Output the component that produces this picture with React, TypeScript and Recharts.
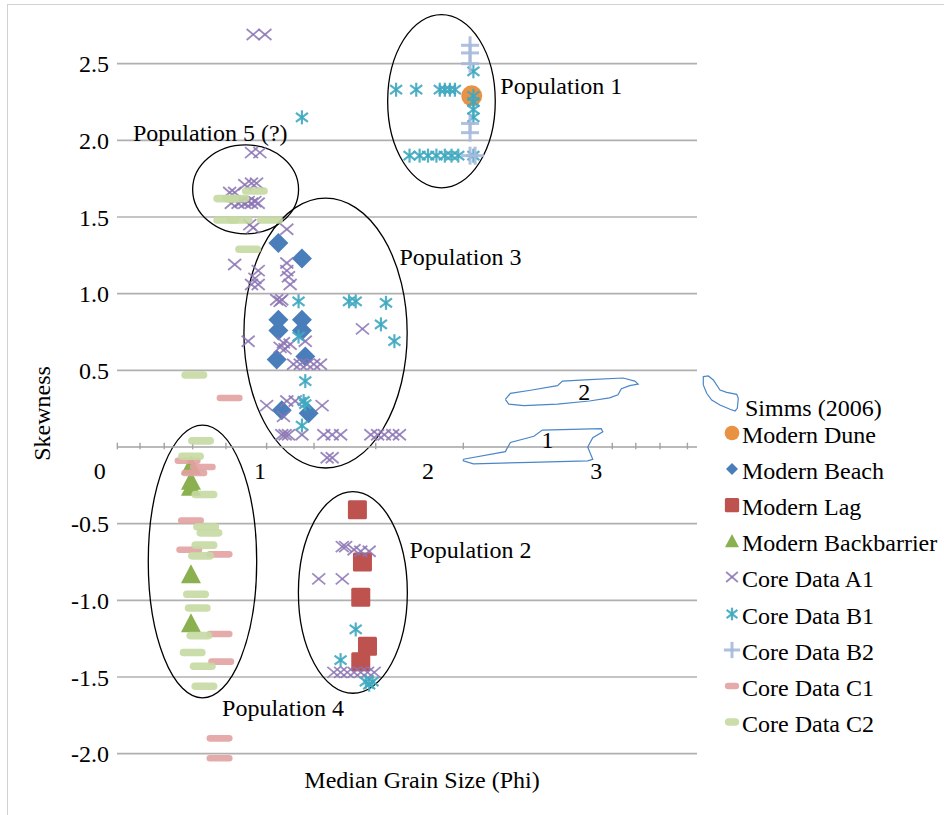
import React from 'react';
import {
  ScatterChart,
  Scatter,
  XAxis,
  YAxis,
  CartesianGrid,
  ReferenceLine,
  ReferenceArea,
  ReferenceDot,
  Legend,
} from 'recharts';

const FONT = '"Liberation Serif", "Times New Roman", serif';

// [median grain size (phi), skewness]
const modernDune = [[2.26, 2.29]];
const modernBeach = [
  [1.11, 1.33], [1.25, 1.23], [1.11, 0.83], [1.11, 0.76], [1.25, 0.83],
  [1.25, 0.76], [1.1, 0.57], [1.27, 0.59], [1.13, 0.24], [1.29, 0.22],
];
const modernLag = [[1.58, -0.41], [1.61, -0.75], [1.6, -0.98], [1.64, -1.3], [1.6, -1.4]];
const modernBackbarrier = [[0.59, -0.12], [0.59, -0.22], [0.59, -0.26], [0.59, -0.83], [0.59, -1.15]];
const coreA1 = [
  [0.96, 2.69], [1.03, 2.69], [0.95, 1.92], [1.0, 1.92],
  [0.91, 1.71], [0.95, 1.72], [0.98, 1.72], [0.82, 1.66], [0.85, 1.66],
  [0.83, 1.59], [0.87, 1.59], [0.89, 1.6], [0.91, 1.59], [0.93, 1.6], [0.95, 1.59], [0.97, 1.6], [0.99, 1.59],
  [0.94, 1.45], [0.96, 1.43], [1.16, 1.42], [0.85, 1.19],
  [1.16, 1.2], [1.16, 1.15], [1.17, 1.11], [1.18, 1.06], [0.99, 1.15], [0.95, 1.06], [0.99, 1.06], [0.97, 1.1],
  [1.1, 0.96], [1.12, 0.95], [1.13, 0.96], [1.61, 0.77], [0.93, 0.69],
  [1.14, 0.68], [1.12, 0.65], [1.18, 0.67], [1.15, 0.64], [1.27, 0.69],
  [1.2, 0.54], [1.24, 0.54], [1.28, 0.54], [1.32, 0.54], [1.36, 0.54],
  [1.04, 0.27], [1.16, 0.3], [1.21, 0.3], [1.37, 0.27], [1.14, 0.2],
  [1.13, 0.08], [1.15, 0.08], [1.17, 0.08], [1.25, 0.08], [1.38, 0.08], [1.43, 0.08], [1.48, 0.08],
  [1.66, 0.08], [1.7, 0.08], [1.74, 0.08], [1.79, 0.08], [1.83, 0.08],
  [1.4, -0.07], [1.43, -0.07],
  [1.49, -0.65], [1.51, -0.65], [1.56, -0.67], [1.6, -0.68], [1.65, -0.68], [1.35, -0.86], [1.49, -0.86],
  [1.44, -1.47], [1.48, -1.47], [1.52, -1.47], [1.56, -1.47], [1.6, -1.47], [1.64, -1.47], [1.68, -1.47],
];
const coreB1 = [
  [1.81, 2.33], [1.93, 2.33], [2.07, 2.33], [2.1, 2.33], [2.13, 2.33], [2.16, 2.33],
  [2.27, 2.45], [2.27, 2.29], [2.27, 2.25], [2.27, 2.2], [2.27, 2.15],
  [1.89, 1.9], [1.95, 1.9], [2.0, 1.9], [2.05, 1.9], [2.1, 1.9], [2.14, 1.9], [2.18, 1.9], [2.27, 1.9],
  [1.25, 2.15], [1.23, 0.95], [1.53, 0.95], [1.57, 0.95], [1.75, 0.94], [1.72, 0.8], [1.8, 0.69],
  [1.23, 0.72], [1.27, 0.43], [1.26, 0.3], [1.27, 0.28], [1.25, 0.14],
  [1.57, -1.19], [1.48, -1.39], [1.63, -1.53], [1.67, -1.53], [1.65, -1.55],
];
const coreB2 = [[2.25, 2.62], [2.25, 2.57], [2.25, 2.5], [2.25, 2.11], [2.25, 2.05], [2.25, 1.9], [2.28, 1.9]];
const coreC1 = [
  [0.57, -0.09], [0.66, -0.13], [0.61, -0.17], [0.59, -0.48], [0.58, -0.67], [0.76, -0.7],
  [0.76, -1.22], [0.77, -1.4], [0.76, -1.9], [0.76, -2.03], [0.82, 0.32],
];
const coreC2 = [
  [0.65, 0.04], [0.59, -0.06], [0.67, -0.31], [0.68, -0.52], [0.7, -0.56], [0.67, -0.64], [0.65, -0.71],
  [0.62, -0.96], [0.63, -1.05], [0.64, -1.23], [0.6, -1.34], [0.66, -1.43], [0.67, -1.56],
  [0.61, 0.47], [0.8, 1.62], [0.86, 1.62], [0.97, 1.67], [0.8, 1.48], [0.88, 1.48], [1.06, 1.48], [0.93, 1.29],
];

// Simms (2006) field outlines, traced
const simmsField1 = [
  [2.21, -0.08], [2.46, -0.03], [2.49, 0.03], [2.63, 0.07], [2.68, 0.11], [3.03, 0.12], [3.04, 0.1],
  [2.98, 0.06], [2.95, 0.0], [2.98, -0.08], [2.95, -0.09], [2.61, -0.1], [2.27, -0.11], [2.21, -0.09], [2.21, -0.08],
];
const simmsField2 = [
  [2.46, 0.31], [2.49, 0.35], [2.61, 0.37], [2.77, 0.4], [2.8, 0.43], [2.96, 0.44], [3.16, 0.45], [3.23, 0.43],
  [3.25, 0.41], [3.2, 0.4], [3.15, 0.38], [3.13, 0.34], [3.08, 0.32], [2.96, 0.3], [2.77, 0.28], [2.57, 0.27],
  [2.48, 0.28], [2.46, 0.31],
];
const simmsLabels = [['1', 2.71, 0.05], ['2', 2.93, 0.36]];

// population ellipses: name, x1, x2, y1, y2
const populations = [
  ['Population 1', 1.76, 2.4, 1.69, 2.82],
  ['Population 5', 0.6, 1.23, 1.39, 1.97],
  ['Population 3', 0.905, 1.876, -0.137, 1.623],
  ['Population 4', 0.336, 0.981, -1.636, 0.143],
  ['Population 2', 1.229, 1.877, -1.606, -0.291],
];
const populationLabels = [
  ['Population 1', 2.43, 2.36],
  ['Population 5 (?)', 0.245, 2.05],
  ['Population 3', 1.83, 1.245],
  ['Population 2', 1.89, -0.67],
  ['Population 4', 0.775, -1.7],
];

const yTicks = [-2, -1.5, -1, -0.5, 0.5, 1, 1.5, 2, 2.5];
const xTickLabels = [0, 1, 2, 3];
const xMinorTicks = [0.152, 0.287, 0.431, 0.6, 0.798, 1.04, 1.322, 1.689, 2.21, 3.096, 3.236, 3.38, 3.543];

const toPts = (arr: number[][]) => arr.map(([x, y]) => ({ x, y }));

const C = {
  dune: '#EA9244',
  beach: '#4A7EBB',
  lag: '#BE524E',
  back: '#8AB04F',
  a1: '#8B74B4',
  b1: '#3FA8C0',
  b2: '#A7B9DC',
  c1: '#E2A1A1',
  c2: '#C5D9A2',
  simms: '#4A86C8',
};

type M = { cx?: number; cy?: number; s?: number };

const Dune = ({ cx = 0, cy = 0, s = 1 }: M) => <circle cx={cx} cy={cy} r={10.5 * s} fill={C.dune} />;
const Diamond = ({ cx = 0, cy = 0, s = 1 }: M) => {
  const r = 10 * s;
  return <polygon points={`${cx},${cy - r} ${cx + r},${cy} ${cx},${cy + r} ${cx - r},${cy}`} fill={C.beach} />;
};
const Square = ({ cx = 0, cy = 0, s = 1 }: M) => (
  <rect x={cx - 9.5 * s} y={cy - 9.5 * s} width={19 * s} height={19 * s} rx={1.5} fill={C.lag} />
);
const Triangle = ({ cx = 0, cy = 0, s = 1 }: M) => (
  <polygon points={`${cx},${cy - 10 * s} ${cx + 10 * s},${cy + 9 * s} ${cx - 10 * s},${cy + 9 * s}`} fill={C.back} />
);
const Cross = ({ cx = 0, cy = 0, s = 1 }: M) => (
  <g stroke={C.a1} strokeWidth={1.8} strokeOpacity={0.85}>
    <line x1={cx - 6.5 * s} y1={cy - 5.5 * s} x2={cx + 6.5 * s} y2={cy + 5.5 * s} />
    <line x1={cx - 6.5 * s} y1={cy + 5.5 * s} x2={cx + 6.5 * s} y2={cy - 5.5 * s} />
  </g>
);
const Star = ({ cx = 0, cy = 0, s = 1 }: M) => (
  <g stroke={C.b1} strokeWidth={2.2} strokeOpacity={0.9}>
    <line x1={cx - 6 * s} y1={cy - 4.5 * s} x2={cx + 6 * s} y2={cy + 4.5 * s} />
    <line x1={cx - 6 * s} y1={cy + 4.5 * s} x2={cx + 6 * s} y2={cy - 4.5 * s} />
    <line x1={cx} y1={cy - 7 * s} x2={cx} y2={cy + 7 * s} />
  </g>
);
const Plus = ({ cx = 0, cy = 0, s = 1 }: M) => (
  <g stroke={C.b2} strokeWidth={3} strokeOpacity={0.9}>
    <line x1={cx - 9 * s} y1={cy} x2={cx + 9 * s} y2={cy} />
    <line x1={cx} y1={cy - 9 * s} x2={cx} y2={cy + 9 * s} />
  </g>
);
const DashC1 = ({ cx = 0, cy = 0, s = 1 }: M) => (
  <rect x={cx - 13 * s} y={cy - 3.3} width={26 * s} height={6.6} rx={3.3} fill={C.c1} fillOpacity={0.9} />
);
const DashC2 = ({ cx = 0, cy = 0, s = 1 }: M) => (
  <rect x={cx - 13 * s} y={cy - 3.8} width={26 * s} height={7.6} rx={3.8} fill={C.c2} fillOpacity={0.9} />
);

const series = [
  { name: 'Modern Dune', data: modernDune, Mark: Dune, ls: 0.7 },
  { name: 'Modern Beach', data: modernBeach, Mark: Diamond, ls: 0.6 },
  { name: 'Modern Lag', data: modernLag, Mark: Square, ls: 0.75 },
  { name: 'Modern Backbarrier', data: modernBackbarrier, Mark: Triangle, ls: 0.7 },
  { name: 'Core Data A1', data: coreA1, Mark: Cross, ls: 0.9 },
  { name: 'Core Data B1', data: coreB1, Mark: Star, ls: 0.9 },
  { name: 'Core Data B2', data: coreB2, Mark: Plus, ls: 0.9 },
  { name: 'Core Data C1', data: coreC1, Mark: DashC1, ls: 0.55 },
  { name: 'Core Data C2', data: coreC2, Mark: DashC2, ls: 0.55 },
];

const textStyle = { fontSize: 24, fill: '#000', fontFamily: FONT };

function LegendBox() {
  return (
    <div style={{ position: 'relative', width: 246, height: 380, fontFamily: FONT, fontSize: 24, color: '#000' }}>
      <svg width={50} height={44} style={{ position: 'absolute', left: 0, top: 0 }}>
        <path
          d="M5.3 4.7 L10.3 4 L15.3 8 L22 18 L28.7 20.3 L38.7 22.3 L40.3 26.3 L39.3 36.3 L37 39 L32 37.3 L22 33 L13.7 28 L8.7 21.3 L5.3 13 Z"
          fill="none"
          stroke={C.simms}
          strokeWidth={1.2}
        />
      </svg>
      <div style={{ position: 'absolute', left: 47, top: 18, lineHeight: '36px', whiteSpace: 'nowrap' }}>Simms (2006)</div>
      {series.map((s, i) => {
        const top = 63 + i * 36.1 - 18;
        const { Mark } = s;
        return (
          <div key={s.name} style={{ position: 'absolute', left: 0, top, height: 36, width: 246 }}>
            <svg width={22} height={22} style={{ position: 'absolute', left: 23, top: 5 }}>
              <Mark cx={11} cy={11} s={s.ls} />
            </svg>
            <div style={{ position: 'absolute', left: 44, top: 0, lineHeight: '36px', whiteSpace: 'nowrap' }}>{s.name}</div>
          </div>
        );
      })}
    </div>
  );
}

export default function App() {
  return (
    <div style={{ position: 'absolute', left: 0, top: 0, width: 944, height: 815, background: '#fff', fontFamily: FONT }}>
      <div
        style={{
          position: 'absolute',
          left: 7,
          top: 4,
          width: 937,
          height: 811,
          borderLeft: '1.5px solid #d2d2d2',
          borderTop: '1.5px solid #d2d2d2',
        }}
      />
      <ScatterChart width={944} height={815} margin={{ top: 10, right: 247, bottom: 16, left: 47 }}>
        <CartesianGrid vertical={false} horizontalValues={yTicks} stroke="#b0b0b0" strokeWidth={1.6} />
        <XAxis
          type="number"
          dataKey="x"
          domain={[0.15, 3.6]}
          allowDataOverflow
          height={30}
          tick={false}
          tickLine={false}
          axisLine={false}
          label={(p: any) => {
            const vb = p.viewBox;
            return (
              <text x={vb.x + vb.width / 2 + 15} y={vb.y + 11} textAnchor="middle" dominantBaseline="central" style={textStyle}>
                Median Grain Size (Phi)
              </text>
            );
          }}
        />
        <YAxis
          type="number"
          dataKey="y"
          domain={[-2.1, 2.85]}
          allowDataOverflow
          ticks={yTicks}
          interval={0}
          tickFormatter={(v: number) => v.toFixed(1)}
          width={70}
          tick={textStyle}
          tickLine={false}
          axisLine={false}
          label={(p: any) => {
            const vb = p.viewBox;
            const x = vb.x - 5;
            const y = vb.y + vb.height / 2 + 24;
            return (
              <text x={x} y={y} transform={`rotate(-90, ${x}, ${y})`} textAnchor="middle" dominantBaseline="central" style={textStyle}>
                Skewness
              </text>
            );
          }}
        />
        <ReferenceLine y={0} stroke="#a3a3a3" strokeWidth={1.6} />
        {xMinorTicks.map((v) => (
          <ReferenceLine key={`t${v}`} segment={[{ x: v, y: -0.015 }, { x: v, y: 0.028 }]} stroke="#a3a3a3" strokeWidth={1.4} />
        ))}

        <Scatter data={toPts(simmsField1)} fill={C.simms} line={{ stroke: C.simms, strokeWidth: 1.2 }} lineType="joint" shape={() => <g />} isAnimationActive={false} legendType="none" />
        <Scatter data={toPts(simmsField2)} fill={C.simms} line={{ stroke: C.simms, strokeWidth: 1.2 }} lineType="joint" shape={() => <g />} isAnimationActive={false} legendType="none" />

        {series.map((s) => {
          const { Mark } = s;
          return (
            <Scatter
              key={s.name}
              name={s.name}
              data={toPts(s.data)}
              shape={(p: any) => <Mark cx={p.cx} cy={p.cy} />}
              isAnimationActive={false}
            />
          );
        })}

        {populations.map(([name, x1, x2, y1, y2]) => (
          <ReferenceArea
            key={name as string}
            x1={x1 as number}
            x2={x2 as number}
            y1={y1 as number}
            y2={y2 as number}
            shape={(p: any) => {
              const w = Math.abs(p.width);
              const h = Math.abs(p.height);
              const x = p.width < 0 ? p.x + p.width : p.x;
              const y = p.height < 0 ? p.y + p.height : p.y;
              return <ellipse cx={x + w / 2} cy={y + h / 2} rx={w / 2} ry={h / 2} fill="none" stroke="#000" strokeWidth={1.3} />;
            }}
          />
        ))}

        {populationLabels.map(([name, x, y]) => (
          <ReferenceDot
            key={name as string}
            x={x as number}
            y={y as number}
            r={0}
            fill="none"
            stroke="none"
            label={{ value: name as string, position: 'right', offset: 0, ...textStyle }}
          />
        ))}
        {simmsLabels.map(([name, x, y]) => (
          <ReferenceDot
            key={`s${name}`}
            x={x as number}
            y={y as number}
            r={0}
            fill="none"
            stroke="none"
            label={{ value: name as string, position: 'center', ...textStyle }}
          />
        ))}
        {xTickLabels.map((v) => (
          <ReferenceDot
            key={`xl${v}`}
            x={v}
            y={-0.15}
            r={0}
            fill="none"
            stroke="none"
            ifOverflow="visible"
            label={{ value: String(v), position: 'center', dx: v === 0 ? 8 : 0, ...textStyle }}
          />
        ))}
        <Legend
          layout="vertical"
          align="center"
          verticalAlign="middle"
          wrapperStyle={{ left: 698, top: 372, width: 246, height: 380 }}
          content={() => <LegendBox />}
        />
      </ScatterChart>
    </div>
  );
}
